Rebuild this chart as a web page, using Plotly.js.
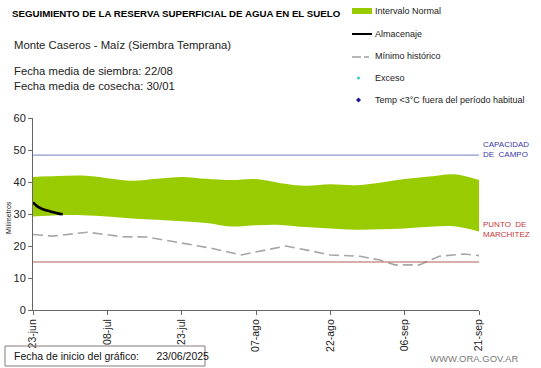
<!DOCTYPE html>
<html><head><meta charset="utf-8">
<script src="https://cdn.plot.ly/plotly-3.0.1.min.js"></script>
<style>html,body{margin:0;padding:0;background:#fff}#chart{width:541px;height:368px}</style>
</head><body><div id="chart"></div>
<script>
// Intervalo normal (banda verde)
const bandDates = ['2025-06-23','2025-06-28','2025-07-03','2025-07-08','2025-07-13','2025-07-18','2025-07-23','2025-07-28','2025-08-02','2025-08-07','2025-08-12','2025-08-17','2025-08-22','2025-08-27','2025-09-01','2025-09-06','2025-09-11','2025-09-16','2025-09-21'];
const bandUpper = [41.6,41.9,42.0,41.2,40.4,41.0,41.6,41.0,40.6,40.9,39.6,38.8,39.3,39.0,39.8,40.9,41.7,42.4,40.6];
const bandLower = [29.2,29.6,29.6,29.2,28.6,28.2,27.7,27.2,26.1,26.5,26.6,25.9,25.5,25.1,25.2,25.5,26.0,26.2,24.5];
// Almacenaje
const almDates = ['2025-06-23','2025-06-24','2025-06-25','2025-06-26','2025-06-27','2025-06-28','2025-06-29'];
const almValues = [33.6,32.2,31.5,31.0,30.6,30.2,29.9];
// Mínimo histórico
const minDates = ['2025-06-23','2025-06-27','2025-07-04','2025-07-11','2025-07-16','2025-07-23','2025-07-29','2025-08-04','2025-08-08','2025-08-13','2025-08-17','2025-08-22','2025-08-28','2025-09-01','2025-09-04','2025-09-09','2025-09-13','2025-09-18','2025-09-21'];
const minValues = [23.6,23.1,24.3,22.9,22.8,21.0,19.3,17.2,18.5,20.0,18.8,17.2,16.8,15.6,14.1,14.1,16.8,17.5,17.0];
// Referencias
const capacidadCampo = 48.4;
const puntoMarchitez = 15;
// Ejes
const tickDates = ['2025-06-23','2025-07-08','2025-07-23','2025-08-07','2025-08-22','2025-09-06','2025-09-21'];
const tickLabels = ['23-jun','08-jul','23-jul','07-ago','22-ago','06-sep','21-sep'];

const F = 'Liberation Sans, Arial, sans-serif';
const traces = [
  {x: bandDates, y: bandLower, mode:'lines', line:{width:0, color:'#99cc00', shape:'spline'}, hoverinfo:'skip', showlegend:false},
  {x: bandDates, y: bandUpper, mode:'lines', line:{width:0, color:'#99cc00', shape:'spline'}, fill:'tonexty', fillcolor:'#99cc00', showlegend:false},
  {x: minDates, y: minValues, mode:'lines', line:{color:'#a6a6a6', width:1.6, dash:'10px,5px'}, showlegend:false},
  {x: almDates, y: almValues, mode:'lines', line:{color:'#000', width:2.6, shape:'spline'}, showlegend:false}
];

const L = 33, T = 118, W = 446, H = 192;
function px(v){return (v-L)/W;}
function py(v){return (T+H-v)/H;}
const legendItems = [
  {t:'Intervalo Normal', y:11},
  {t:'Almacenaje', y:34},
  {t:'Mínimo histórico', y:56},
  {t:'Exceso', y:78},
  {t:'Temp <3°C fuera del período habitual', y:100}
];
const annotations = [
  {text:'<b>SEGUIMIENTO DE LA RESERVA SUPERFICIAL DE AGUA EN EL SUELO</b>', x:px(10), y:py(13), xref:'paper', yref:'paper', xanchor:'left', yanchor:'middle', showarrow:false, font:{family:F, size:9.7, color:'#000'}},
  {text:'Monte Caseros - Maíz (Siembra Temprana)', x:px(12), y:py(45), xref:'paper', yref:'paper', xanchor:'left', yanchor:'middle', showarrow:false, font:{family:F, size:11.3, color:'#222'}},
  {text:'Fecha media de siembra: 22/08', x:px(12), y:py(71), xref:'paper', yref:'paper', xanchor:'left', yanchor:'middle', showarrow:false, font:{family:F, size:11.3, color:'#222'}},
  {text:'Fecha media de cosecha: 30/01', x:px(12), y:py(86), xref:'paper', yref:'paper', xanchor:'left', yanchor:'middle', showarrow:false, font:{family:F, size:11.3, color:'#222'}},
  {text:'CAPACIDAD<br>DE  CAMPO', x:px(481), y:py(149), xref:'paper', yref:'paper', xanchor:'left', yanchor:'middle', align:'left', showarrow:false, font:{family:F, size:8, color:'#3a3aa8'}},
  {text:'PUNTO  DE<br>MARCHITEZ', x:px(481), y:py(229), xref:'paper', yref:'paper', xanchor:'left', yanchor:'middle', align:'left', showarrow:false, font:{family:F, size:8, color:'#c83838'}},
  {text:'Milímetros', x:px(8), y:py(218), xref:'paper', yref:'paper', textangle:-90, xanchor:'center', yanchor:'middle', showarrow:false, font:{family:F, size:7, color:'#222'}},
  {text:'Fecha de inicio del gráfico:      23/06/2025', x:px(12), y:py(356), xref:'paper', yref:'paper', xanchor:'left', yanchor:'middle', showarrow:false, font:{family:F, size:10.5, color:'#111'}},
  {text:'WWW.ORA.GOV.AR', x:px(520), y:py(358), xref:'paper', yref:'paper', xanchor:'right', yanchor:'middle', showarrow:false, font:{family:F, size:9.5, color:'#7a7a7a'}}
];
legendItems.forEach(it=>annotations.push({text:it.t, x:px(373), y:py(it.y), xref:'paper', yref:'paper', xanchor:'left', yanchor:'middle', showarrow:false, font:{family:F, size:9, color:'#222'}}));

const shapes = [
  {type:'line', xref:'paper', yref:'y', x0:0, x1:1, y0:capacidadCampo, y1:capacidadCampo, line:{color:'#6f7fc0', width:1}},
  {type:'line', xref:'paper', yref:'y', x0:0, x1:1, y0:puntoMarchitez, y1:puntoMarchitez, line:{color:'#b85a5a', width:1}},
  {type:'rect', xref:'paper', yref:'paper', x0:px(352), x1:px(372), y0:py(14), y1:py(8), fillcolor:'#99cc00', line:{width:0}},
  {type:'line', xref:'paper', yref:'paper', x0:px(352), x1:px(372), y0:py(34), y1:py(34), line:{color:'#000', width:2}},
  {type:'line', xref:'paper', yref:'paper', x0:px(352), x1:px(361), y0:py(57), y1:py(57), line:{color:'#999', width:1.4}},
  {type:'line', xref:'paper', yref:'paper', x0:px(364), x1:px(369), y0:py(57), y1:py(57), line:{color:'#999', width:1.4}},
  {type:'circle', xref:'paper', yref:'paper', x0:px(357), x1:px(360), y0:py(79.5), y1:py(76.5), fillcolor:'#33cccc', line:{width:0}},
  {type:'path', xref:'paper', yref:'paper', path:`M ${px(358.5)} ${py(97.5)} L ${px(361)} ${py(100)} L ${px(358.5)} ${py(102.5)} L ${px(356)} ${py(100)} Z`, fillcolor:'#1a1a9a', line:{width:0}},
  {type:'rect', xref:'paper', yref:'paper', x0:px(5), x1:px(205), y0:py(366), y1:py(346), line:{color:'#8a7a7a', width:1}}
];

const layout = {
  width:541, height:368,
  margin:{l:L, r:541-L-W, t:T, b:368-T-H},
  paper_bgcolor:'#fff', plot_bgcolor:'#fff',
  showlegend:false,
  xaxis:{type:'date', range:['2025-06-23','2025-09-21'], tickvals:tickDates, ticktext:tickLabels, tickangle:-90,
    showgrid:false, zeroline:false, showline:true, linecolor:'#666', linewidth:1, ticks:'outside', ticklen:4, tickcolor:'#666',
    tickfont:{family:F, size:10.5, color:'#222'}},
  yaxis:{range:[0,60], dtick:10, showgrid:false, zeroline:false, showline:true, linecolor:'#666', linewidth:1, ticks:'outside', ticklen:4, tickcolor:'#666',
    tickfont:{family:F, size:11, color:'#222'}},
  annotations, shapes
};
Plotly.newPlot('chart', traces, layout, {staticPlot:true, displayModeBar:false});
</script></body></html>
